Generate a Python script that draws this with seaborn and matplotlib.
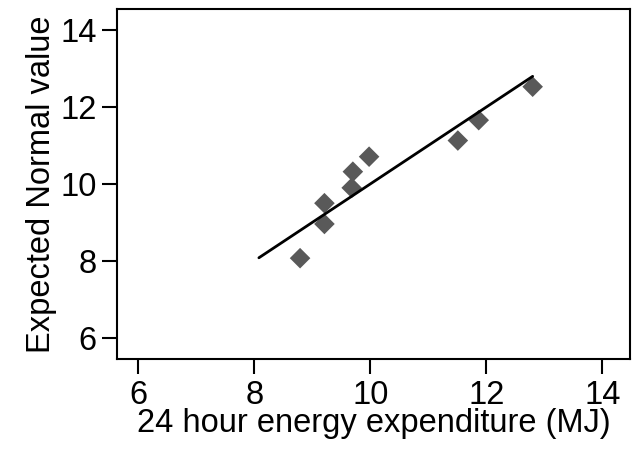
import matplotlib
matplotlib.use("Agg")
import matplotlib.pyplot as plt
import seaborn as sns
import pandas as pd

energy = [8.79, 9.21, 9.21, 9.68, 9.70, 9.98, 11.51, 11.87, 12.80]
expected = [8.07, 8.96, 9.50, 9.90, 10.32, 10.71, 11.13, 11.66, 12.53]
line_x = [8.08, 12.80]
line_y = [8.08, 12.80]
ticks = [6, 8, 10, 12, 14]

sns.set_style("white")
plt.rcParams['font.family'] = ['Liberation Sans', 'DejaVu Sans']
plt.rcParams['text.color'] = 'black'
plt.rcParams['axes.labelcolor'] = 'black'

fig = plt.figure(figsize=(6.32, 4.5), dpi=100)
ax = fig.add_axes([0.1857, 0.2016, 0.8113, 0.7774])

df = pd.DataFrame({"x": energy, "y": expected})
sns.scatterplot(data=df, x="x", y="y", marker="D", s=110, color="#595959",
                edgecolor="none", ax=ax, zorder=2)
sns.lineplot(x=line_x, y=line_y, color="black", linewidth=2, ax=ax, zorder=3)

ax.set_xlim(5.64, 14.48)
ax.set_ylim(5.44, 14.54)
ax.set_xticks(ticks)
ax.set_yticks(ticks)
ax.tick_params(axis="both", direction="out", length=11, width=1.5,
               labelsize=23.5, colors="black", pad=4, left=True, bottom=True)
for s in ax.spines.values():
    s.set_linewidth(1.5)
    s.set_color("black")
ax.set_xlabel("24 hour energy expenditure (MJ)", fontsize=23.5, labelpad=-2,
              color="black")
ax.set_ylabel("Expected Normal value", fontsize=23.5, labelpad=2, color="black")

fig.savefig("out.png", dpi=100)
